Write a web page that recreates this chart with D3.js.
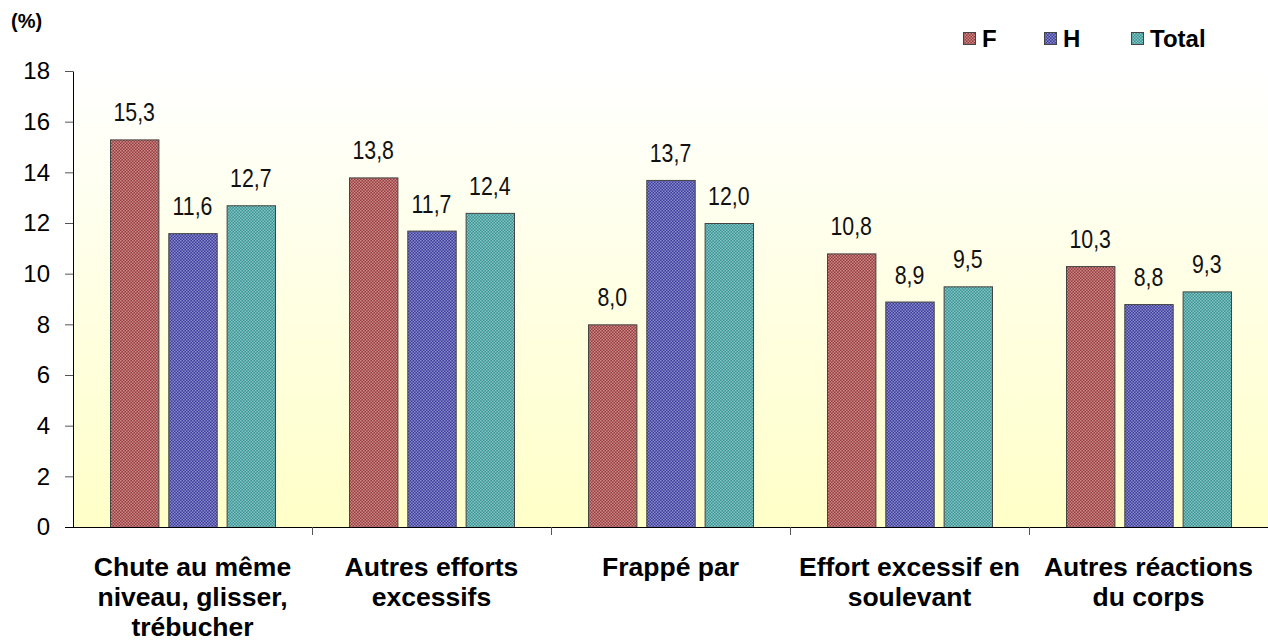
<!DOCTYPE html>
<html><head><meta charset="utf-8">
<script src="https://cdn.jsdelivr.net/npm/d3@7/dist/d3.min.js"></script>
<style>body{margin:0;background:#fff}svg{display:block}</style>
</head><body>
<svg id="c" width="1268" height="641"></svg>
<script>
const categories = [["Chute au même","niveau, glisser,","trébucher"],["Autres efforts","excessifs"],["Frappé par"],["Effort excessif en","soulevant"],["Autres réactions","du corps"]];
const seriesNames = ["F","H","Total"];
const valuesF = [15.3, 13.8, 8.0, 10.8, 10.3];
const valuesH = [11.6, 11.7, 13.7, 8.9, 8.8];
const valuesTotal = [12.7, 12.4, 12.0, 9.5, 9.3];
const yTicks = [0,2,4,6,8,10,12,14,16,18];

const series = [valuesF, valuesH, valuesTotal];
const colorsA = ["#9a3c3c","#3c3c9a","#3a9494"];
const colorsB = ["#c88a8a","#8a8acc","#86c4c4"];
const FONT = "'Liberation Sans',Arial,sans-serif";

const svg = d3.select("#c");
const m = {l:73, r:0, t:71, b:114};
const W = 1268, H = 641;
const x0 = d3.scaleBand().domain(d3.range(categories.length)).range([m.l, W - m.r]).paddingInner(0).paddingOuter(0);
const x1 = d3.scaleBand().domain(d3.range(3)).range([37, x0.bandwidth()-37]).paddingInner(0.17);
const y = d3.scaleLinear().domain([0,18]).range([H - m.b, m.t]);

const defs = svg.append("defs");
const grad = defs.append("linearGradient").attr("id","bg").attr("x1",0).attr("y1",0).attr("x2",0).attr("y2",1);
grad.append("stop").attr("offset","0%").attr("stop-color","#ffffff");
grad.append("stop").attr("offset","100%").attr("stop-color","#ffffc8");
series.forEach((s,i)=>{
  const p = defs.append("pattern").attr("id","p"+i).attr("width",3).attr("height",3).attr("patternUnits","userSpaceOnUse");
  p.append("rect").attr("width",3).attr("height",3).attr("fill",colorsA[i]);
  p.append("rect").attr("x",0).attr("y",0).attr("width",1.5).attr("height",1.5).attr("fill",colorsB[i]);
  p.append("rect").attr("x",1.5).attr("y",1.5).attr("width",1.5).attr("height",1.5).attr("fill",colorsB[i]);
});

svg.append("rect").attr("x",m.l).attr("y",m.t).attr("width",W-m.r-m.l).attr("height",y(0)-m.t).attr("fill","url(#bg)");

// bars
categories.forEach((c,ci)=>{
  series.forEach((s,si)=>{
    const bx = x0(ci) + x1(si);
    svg.append("rect").attr("x",bx+0.5).attr("y",y(s[ci])+0.5)
      .attr("width",x1.bandwidth()).attr("height",y(0)-y(s[ci]))
      .attr("fill","url(#p"+si+")").attr("stroke","#444").attr("stroke-width",1);
    const cx = bx + x1.bandwidth()/2, cy = y(s[ci]) - 18;
    svg.append("text").attr("transform",`translate(${cx},${cy}) scale(0.82,1)`)
      .attr("text-anchor","middle").attr("font-family",FONT)
      .attr("font-size",26).attr("fill","#111")
      .text(s[ci].toFixed(1).replace(".",","));
  });
});

// y axis
const ya = svg.append("g").attr("transform",`translate(${m.l},0)`)
  .call(d3.axisLeft(y).tickValues(yTicks).tickSize(8).tickPadding(15).tickSizeOuter(0));
ya.select(".domain").attr("stroke","#000");
ya.selectAll(".tick line").attr("stroke","#555");
ya.selectAll("text").attr("font-family",FONT).attr("font-size",24).attr("fill","#000");

// x axis
const xa = svg.append("g").attr("transform",`translate(0,${y(0)})`);
xa.append("line").attr("x1",m.l-8).attr("x2",W).attr("y1",0.5).attr("y2",0.5).attr("stroke","#000");
d3.range(1, categories.length).forEach(i=>{
  const xx = m.l + i*x0.bandwidth();
  xa.append("line").attr("x1",xx+0.5).attr("x2",xx+0.5).attr("y1",0).attr("y2",8).attr("stroke","#555");
});
categories.forEach((c,ci)=>{
  const t = svg.append("text").attr("text-anchor","middle").attr("font-family",FONT)
    .attr("font-weight","bold").attr("font-size",26.5).attr("fill","#000");
  c.forEach((line,li)=>{
    t.append("tspan").attr("x",x0(ci)+x0.bandwidth()/2).attr("y",576+li*30).text(line);
  });
});

// y title
svg.append("text").attr("x",11).attr("y",28).attr("font-family",FONT)
  .attr("font-weight","bold").attr("font-size",20).text("(%)");

// legend
const legX = [963, 1044, 1131];
seriesNames.forEach((n,i)=>{
  svg.append("rect").attr("x",legX[i]+0.5).attr("y",32.5).attr("width",12).attr("height",12)
    .attr("fill","url(#p"+i+")").attr("stroke","#444");
  svg.append("text").attr("x",legX[i]+19).attr("y",47).attr("font-family",FONT)
    .attr("font-weight","bold").attr("font-size",24).text(n);
});
</script>
</body></html>
